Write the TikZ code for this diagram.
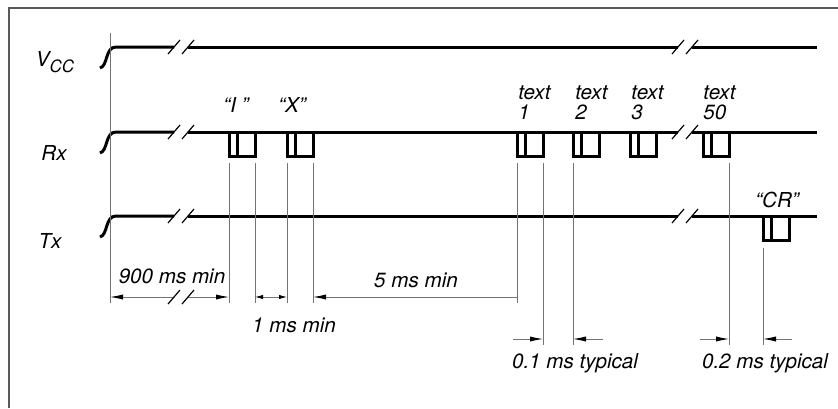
\documentclass[tikz,border=0pt]{standalone}
\usepackage{fontspec}
\setmainfont{TeX Gyre Heros}
\usetikzlibrary{arrows.meta,positioning,calc}

\tikzset{
    signal/.style={line width=1.5pt,line join=miter},
    breakmark/.style={line width=0.6pt},
    extline/.style={line width=0.45pt,black!55},
    dimline/.style={line width=0.45pt,black!55},
    tip/.style={-{Latex[length=6.5pt,width=2.6pt,black]}},
    smalltip/.style={{Latex[length=4pt,width=2.2pt,black]}-{Latex[length=4pt,width=2.2pt,black]}},
    lbl/.style={font=\fontsize{10.3}{10}\selectfont\itshape,inner sep=0pt}
}

\begin{document}
\begin{tikzpicture}[
        x=0.5pt,
        y=-0.5pt,
        line cap=butt,
        every node/.style={lbl}
    ]

        \useasboundingbox (0,0) rectangle (838,408);

        % 外框
        \draw[black!65,line width=0.8pt] (9,408) -- (9,8) -- (838,8);

        % 三条信号：上升沿、高电平与断开符号
        \foreach \y in {47,132,216} {
            \draw[signal] (100,\y+21) .. controls (108,\y+19) and (105,\y) .. (116,\y) -- (174,\y);
            \draw[signal] (188,\y) -- (678,\y);
            \draw[signal] (692,\y) -- (817,\y);
            \foreach \c in {174,188,678,692}
                \draw[breakmark] (\c-6,\y+7) -- (\c+6,\y-7);
        }

        % Rx 上的字符帧
        \foreach \p in {229,287,517,573,630,703} {
            \draw[signal] (\p,132) rectangle (\p+26,156);
            \draw[signal] (\p+8,132) -- (\p+8,156);
        }

        % Tx 上的 CR
        \draw[signal] (763,216) rectangle (789,240);
        \draw[signal] (771,216) -- (771,240);

        % 信号名称
        \node (vcc) at (55,62) {V\raisebox{-0.5ex}{\fontsize{8.5}{9}\selectfont CC}};
        \node (rx) at (54,153) {Rx};
        \node (tx) at (50,241) {Tx};

        % 字符名称
        \node (chI) at (236,105) {“I ”};
        \node (chX) at (292,105) {“X”};
        \node (chCR) at (777,200) {“CR”};
        \node[align=left,anchor=north west] (txt1) at (518,85) {text\\1};
        \node[align=left,anchor=north west] (txt2) at (575,85) {text\\2};
        \node[align=left,anchor=north west] (txt3) at (631,85) {text\\3};
        \node[align=left,anchor=north west] (txt50) at (703,85) {text\\50};

        % 尺寸界线
        \draw[extline] (110,33) -- (110,303);
        \foreach \x in {229,255,287,313,517}
            \draw[extline] (\x,163) -- (\x,303);
        \foreach \x in {543,573,729}
            \draw[extline] (\x,163) -- (\x,345);
        \draw[extline] (763,248) -- (763,345);

        % 尺寸线的端点
        \coordinate (a) at (110,297);
        \coordinate (brkL) at (174,297);
        \coordinate (brkR) at (188,297);
        \coordinate (b) at (229,297);
        \coordinate (c) at (255,297);
        \coordinate (d) at (287,297);
        \coordinate (e) at (313,297);
        \coordinate (f) at (517,297);

        % 900 ms min（带断开）
        \draw[dimline,tip] (brkL) -- (a);
        \draw[dimline,tip] (brkR) -- (b);
        \foreach \c in {174,188}
            \draw[breakmark] (\c-6,304) -- (\c+6,290);
        \node (t900) at (172,276) {900 ms min};

        % 1 ms min
        \draw[dimline,smalltip] (c) -- (d);
        \node (t1) at (294,325) {1 ms min};

        % 5 ms min
        \draw[dimline,tip,{Latex[length=6.5pt,width=2.6pt,black]}-] (e) -- (f);
        \node (t5) at (416,280) {5 ms min};

        % 0.1 ms typical
        \coordinate (g1) at (513,339);
        \coordinate (g2) at (543,339);
        \coordinate (g3) at (573,339);
        \coordinate (g4) at (603,339);
        \draw[dimline,tip] (g1) -- (g2);
        \draw[dimline,tip] (g4) -- (g3);
        \node (t01) at (575,363) {0.1 ms typical};

        % 0.2 ms typical
        \coordinate (h1) at (700,339);
        \coordinate (h2) at (729,339);
        \coordinate (h3) at (763,339);
        \coordinate (h4) at (792,339);
        \draw[dimline,tip] (h1) -- (h2);
        \draw[dimline,tip] (h4) -- (h3);
        \node (t02) at (765,363) {0.2 ms typical};

    \end{tikzpicture}
\end{document}
